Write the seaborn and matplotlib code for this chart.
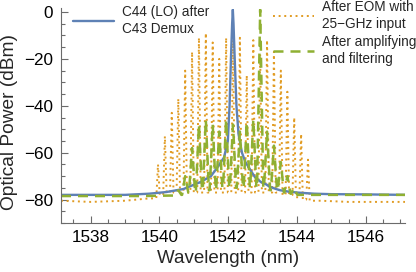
"""
plot.py — спектры: LO после демультиплексора, гребёнка после EOM, после усиления и фильтра
"""

import matplotlib
matplotlib.use("Agg")
import matplotlib.pyplot as plt
import pandas as pd
import seaborn as sns
from matplotlib.ticker import MultipleLocator


# ── Данные ────────────────────────────────────────────────────────────────────

# C44 (LO) после C43 demux: узкая линия + крылья
blue_wl = [1537.14, 1538.0, 1539.0, 1539.7, 1540.2, 1540.7, 1541.2, 1541.5,
           1541.7, 1541.88, 1541.99, 1542.04, 1542.08, 1542.115, 1542.135,
           1542.155, 1542.19, 1542.24, 1542.30, 1542.40, 1542.5, 1542.63,
           1542.78, 1542.95, 1543.1, 1543.2, 1543.35, 1543.5, 1543.75,
           1544.0, 1544.5, 1545.0, 1546.0, 1547.14]
blue_dbm = [-78, -78, -78, -77.5, -76.8, -75.5, -72.5, -70,
            -66, -62, -55, -40, -20, -5, 1,
            -5, -20, -40, -52, -60, -64, -67,
            -70.5, -72.5, -73.5, -74.5, -75.3, -76, -76.6,
            -77, -77.5, -77.7, -77.8, -78]

# линии гребёнки 25 ГГц
comb_wl = [1539.96, 1540.16, 1540.36, 1540.55, 1540.75, 1540.95, 1541.15,
           1541.35, 1541.55, 1541.74, 1541.94, 1542.14, 1542.34, 1542.54,
           1542.73, 1542.93, 1543.13, 1543.33, 1543.53, 1543.72, 1543.92,
           1544.12, 1544.32]
eom_peak = [-65, -53, -43, -37, -25, -17, -11, -9, -13, -20, -11, -12,
            -11, -27, -12, -18, -12, -17, -25, -34, -45, -52, -63]
eom_dip = [-78, -77, -77, -77, -77, -77, -77, -77, -77, -77, -77, -77,
           -77, -77, -77, -77, -77, -77, -78, -78, -79, -80, -80.5]
eom_left_wl = [1537.14, 1538.0, 1539.0, 1539.7]
eom_left_dbm = [-80.5, -81, -80.5, -79.5]
eom_right_wl = [1544.7, 1545.5, 1546.5, 1547.14]
eom_right_dbm = [-80.5, -81, -81, -81]

# после усиления и фильтрации: одна линия выделена
filt_wl = [1540.55, 1540.75, 1540.95, 1541.15, 1541.35, 1541.55, 1541.74,
           1541.94, 1542.14, 1542.34, 1542.54, 1542.73, 1542.93, 1543.13,
           1543.33, 1543.53, 1543.72, 1543.92]
filt_peak = [-76, -70, -58, -48, -46, -48, -51, -46, -48, -51, -47, -46,
             1, -51, -57, -64, -70, -75]
filt_dip = [-78, -77, -77, -76, -76, -76, -75, -75, -75, -75, -75, -75,
            -75, -76, -76, -77, -77.5, -78]
filt_left_wl = [1537.14, 1538.5, 1539.5, 1540.3]
filt_left_dbm = [-78.5, -78.5, -78.5, -78.3]
filt_right_wl = [1544.3, 1545.0, 1546.0, 1547.14]
filt_right_dbm = [-78, -78, -78, -78]

labels = ["C44 (LO) after\nC43 Demux",
          "After EOM with\n25\u2212GHz input",
          "After amplifying\nand filtering"]

BLUE = "#5E81B5"
ORANGE = "#E19C24"
GREEN = "#8FB032"
FRAME = "#6b6b6b"


def comb_trace(left_wl, left_dbm, centers, peaks, dips, right_wl, right_dbm,
               half=0.03):
    """Собрать трассу OSA: пол слева, узкие пики, пол справа."""
    wl, db = list(left_wl), list(left_dbm)
    prev = left_dbm[-1]
    for c, p, d in zip(centers, peaks, dips):
        wl += [c - half, c, c + half]
        db += [prev, p, d]
        prev = d
    wl += list(right_wl)
    db += list(right_dbm)
    return pd.DataFrame({"wl": wl, "dbm": db})


blue_df = pd.DataFrame({"wl": blue_wl, "dbm": blue_dbm})
eom_df = comb_trace(eom_left_wl, eom_left_dbm, comb_wl, eom_peak, eom_dip,
                    eom_right_wl, eom_right_dbm, half=0.05)
filt_df = comb_trace(filt_left_wl, filt_left_dbm, filt_wl, filt_peak, filt_dip,
                     filt_right_wl, filt_right_dbm, half=0.09)

# ── Рисунок ───────────────────────────────────────────────────────────────────

sns.set_style("ticks")
plt.rcParams["font.family"] = ["Liberation Sans", "DejaVu Sans"]

fig = plt.figure(figsize=(4.16, 2.72), dpi=100)
ax = fig.add_axes([61 / 416, 1 - 223 / 272, 344 / 416, (223 - 8.5) / 272])

sns.lineplot(data=eom_df, x="wl", y="dbm", ax=ax, sort=False, estimator=None,
             color=ORANGE, lw=1.4, legend=False)
sns.lineplot(data=blue_df, x="wl", y="dbm", ax=ax, sort=False, estimator=None,
             color=BLUE, lw=1.7, legend=False)
sns.lineplot(data=filt_df, x="wl", y="dbm", ax=ax, sort=False, estimator=None,
             color=GREEN, lw=1.8, legend=False)

line_eom, line_blue, line_filt = ax.get_lines()[:3]
line_eom.set_linestyle((0, (1, 1.9)))
line_filt.set_linestyle((0, (4, 2.8)))

ax.set_xlim(1537.14, 1547.14)
ax.set_ylim(-90, 1.5)
ax.xaxis.set_major_locator(MultipleLocator(2))
ax.xaxis.set_minor_locator(MultipleLocator(0.5))
ax.yaxis.set_major_locator(MultipleLocator(20))
ax.yaxis.set_minor_locator(MultipleLocator(5))
ax.tick_params(which="both", direction="in", color=FRAME, labelsize=12.3,
               labelcolor="black")
ax.tick_params(which="major", length=5, width=0.8)
ax.tick_params(which="minor", length=3, width=0.8)
ax.tick_params(axis="x", pad=5)
ax.tick_params(axis="y", pad=5.5)
sns.despine(ax=ax)
for side in ["left", "bottom"]:
    ax.spines[side].set_color(FRAME)
    ax.spines[side].set_linewidth(0.8)

ax.set_xlabel("Wavelength (nm)", fontsize=13.5)
ax.set_ylabel("Optical Power (dBm)", fontsize=13.8)
ax.xaxis.set_label_coords(0.485, -0.128)
ax.yaxis.set_label_coords(-0.125, 0.47)

leg_kw = dict(loc="upper left", frameon=False, borderpad=0, borderaxespad=0,
              handlelength=3.0, handletextpad=0.6, fontsize=9.8,
              labelspacing=0.25)
leg1 = fig.legend([line_blue], labels[:1], bbox_to_anchor=(73 / 416, 1 - 5 / 272),
                  **leg_kw)
leg2 = fig.legend([line_eom, line_filt], labels[1:],
                  bbox_to_anchor=(273 / 416, 1 - 0 / 272), **leg_kw)
for leg in (leg1, leg2):
    for t in leg.get_texts():
        t.set_linespacing(1.3)

fig.savefig("out.png", dpi=100)
